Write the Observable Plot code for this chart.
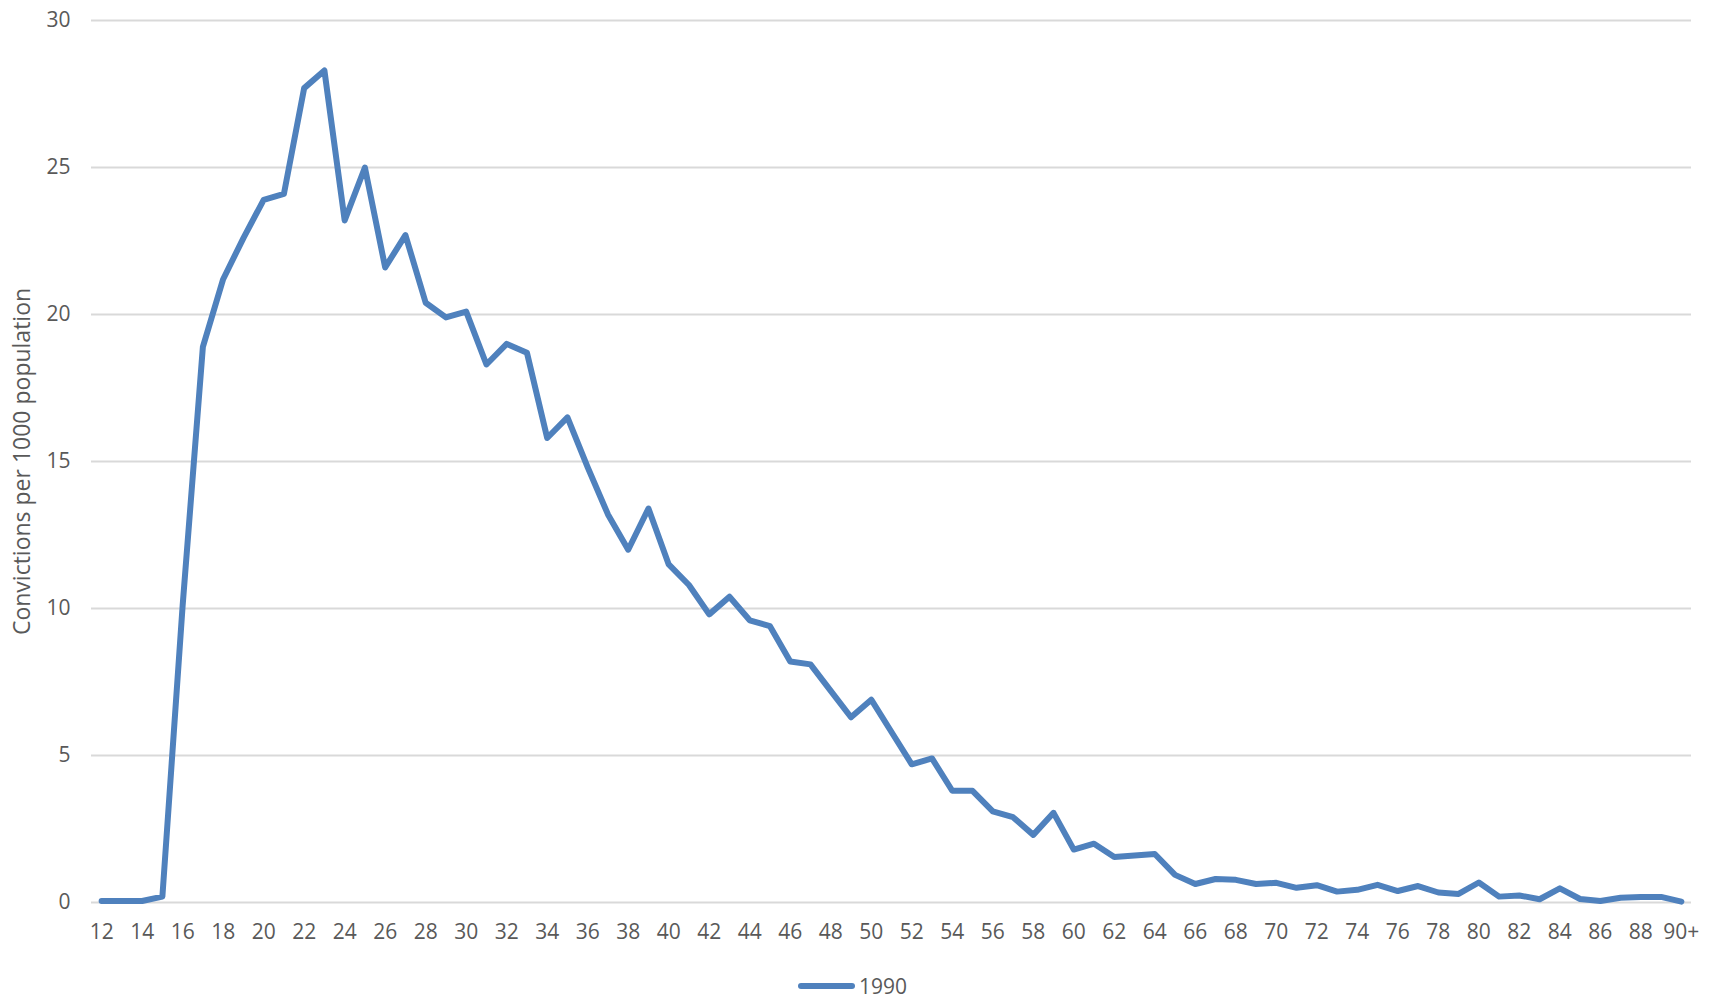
<!DOCTYPE html>
<html>
<head>
<meta charset="utf-8">
<script src="https://cdn.jsdelivr.net/npm/d3@7"></script>
<script src="https://cdn.jsdelivr.net/npm/@observablehq/plot@0.6"></script>
<style>
  html, body { margin: 0; padding: 0; background: #fff; }
  #chart svg { display: block; }
  #legend {
    width: 1705px; padding-right: 14px; height: 27px;
    display: flex; align-items: center; justify-content: center;
    font-family: "Open Sans", sans-serif; font-size: 21px; color: #595959;
  }
  #legend .swatch { width: 57px; height: 6px; background: #4F81BD; border-radius: 3px; margin-right: 4px; }
</style>
</head>
<body>
<div id="chart"></div>
<div id="legend"><span class="swatch"></span><span>1990</span></div>
<script>
const ages = ["12","13","14","15","16","17","18","19","20","21","22","23","24","25","26","27","28","29",
  "30","31","32","33","34","35","36","37","38","39","40","41","42","43","44","45","46","47","48","49",
  "50","51","52","53","54","55","56","57","58","59","60","61","62","63","64","65","66","67","68","69",
  "70","71","72","73","74","75","76","77","78","79","80","81","82","83","84","85","86","87","88","89","90+"];
const convictions1990 = [0.05,0.05,0.05,0.2,10.1,18.9,21.2,22.6,23.9,24.1,27.7,28.3,23.2,25.0,21.6,22.7,20.4,19.9,
  20.1,18.3,19.0,18.7,15.8,16.5,14.8,13.2,12.0,13.4,11.5,10.8,9.8,10.4,9.6,9.4,8.2,8.1,7.2,6.3,
  6.9,5.8,4.7,4.9,3.8,3.8,3.1,2.9,2.3,3.05,1.8,2.0,1.55,1.6,1.65,0.94,0.63,0.8,0.77,0.63,
  0.67,0.5,0.59,0.37,0.43,0.6,0.39,0.56,0.34,0.29,0.68,0.2,0.24,0.11,0.48,0.12,0.05,0.16,0.19,0.19,0.03];
const yTicks = [0, 5, 10, 15, 20, 25, 30];
const xTickLabels = ages.filter((d, i) => i % 2 === 0);
const yTitle = "Convictions per 1000 population";
const seriesName = "1990";

const data = ages.map((a, i) => ({age: a, value: convictions1990[i]}));

const chart = Plot.plot({
  width: 1719,
  height: 972,
  marginTop: 20,
  marginBottom: 70,
  marginLeft: 91,
  marginRight: 28,
  style: {fontFamily: "'Open Sans', sans-serif", fontSize: "21px", color: "#595959", background: "#fff"},
  x: {type: "point", domain: ages, padding: 0.5, round: false},
  y: {domain: [0, 30]},
  marks: [
    Plot.ruleY(yTicks, {stroke: "#d9d9d9", strokeWidth: 2}),
    Plot.axisY({ticks: yTicks, tickSize: 0, tickPadding: 21, label: null, fill: "#595959"}),
    Plot.axisX({ticks: xTickLabels, tickSize: 0, tickPadding: 22, label: null, fill: "#595959"}),
    Plot.text([yTitle], {frameAnchor: "left", rotate: -90, dx: -69, fontSize: 23, fill: "#595959", textAnchor: "middle", lineAnchor: "middle"}),
    Plot.line(data, {x: "age", y: "value", stroke: "#4F81BD", strokeWidth: 6, strokeLinejoin: "round", strokeLinecap: "round"})
  ]
});
document.getElementById("chart").appendChild(chart);
</script>
</body>
</html>
